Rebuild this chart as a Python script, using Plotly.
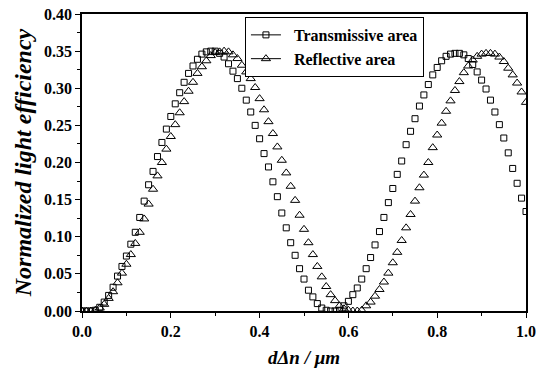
import plotly.graph_objects as go

# d*delta_n grid (um)
x_values = [round(i * 0.01, 2) for i in range(101)]

transmissive = [
    0.000, 0.000, 0.000, 0.001, 0.005, 0.012, 0.021, 0.032, 0.047, 0.060,
    0.074, 0.090, 0.106, 0.126, 0.148, 0.170, 0.188, 0.208, 0.227, 0.245,
    0.262, 0.279, 0.294, 0.308, 0.320, 0.330, 0.339, 0.346, 0.349, 0.350,
    0.350, 0.347, 0.342, 0.333, 0.323, 0.313, 0.300, 0.284, 0.268, 0.250,
    0.232, 0.212, 0.194, 0.174, 0.154, 0.132, 0.112, 0.092, 0.075, 0.057,
    0.043, 0.028, 0.019, 0.010, 0.004, 0.001, 0.000, 0.000, 0.001, 0.007,
    0.013, 0.022, 0.031, 0.043, 0.057, 0.072, 0.089, 0.107, 0.126, 0.146,
    0.165, 0.184, 0.202, 0.224, 0.242, 0.259, 0.276, 0.291, 0.305, 0.318,
    0.328, 0.337, 0.343, 0.346, 0.347, 0.347, 0.345, 0.340, 0.332, 0.322,
    0.311, 0.299, 0.284, 0.268, 0.251, 0.233, 0.213, 0.192, 0.172, 0.152,
    0.134,
]

reflective = [
    0.000, 0.000, 0.000, 0.001, 0.004, 0.009, 0.017, 0.026, 0.038, 0.051,
    0.063, 0.076, 0.091, 0.106, 0.124, 0.144, 0.164, 0.182, 0.200, 0.218,
    0.235, 0.251, 0.267, 0.282, 0.296, 0.308, 0.320, 0.329, 0.337, 0.344,
    0.348, 0.349, 0.350, 0.349, 0.345, 0.340, 0.331, 0.322, 0.313, 0.301,
    0.286, 0.271, 0.255, 0.239, 0.221, 0.203, 0.186, 0.168, 0.149, 0.129,
    0.110, 0.092, 0.076, 0.060, 0.046, 0.033, 0.022, 0.014, 0.007, 0.003,
    0.001, 0.000, 0.000, 0.001, 0.007, 0.012, 0.020, 0.029, 0.039, 0.051,
    0.065, 0.079, 0.095, 0.112, 0.130, 0.148, 0.166, 0.183, 0.200, 0.220,
    0.237, 0.253, 0.269, 0.283, 0.297, 0.309, 0.321, 0.330, 0.338, 0.343,
    0.346, 0.347, 0.347, 0.346, 0.342, 0.336, 0.327, 0.318, 0.307, 0.295,
    0.281,
]

series_names = ["Transmissive area", "Reflective area"]
x_ticks = [0.0, 0.2, 0.4, 0.6, 0.8, 1.0]
y_ticks = [0.00, 0.05, 0.10, 0.15, 0.20, 0.25, 0.30, 0.35, 0.40]

FONT = "Liberation Serif, Times New Roman, serif"

fig = go.Figure()

fig.add_trace(go.Scatter(
    x=x_values, y=transmissive, mode="markers", showlegend=False,
    marker=dict(symbol="square-open", size=6, color="black", line=dict(width=1, color="black")),
))
fig.add_trace(go.Scatter(
    x=x_values, y=reflective, mode="markers", showlegend=False,
    marker=dict(symbol="triangle-up-open", size=8, color="black", line=dict(width=1, color="black")),
))

# legend entries (line + marker, as in the original legend)
fig.add_trace(go.Scatter(
    x=[None], y=[None], mode="lines+markers", name="\u2002" + series_names[0],
    line=dict(color="black", width=1),
    marker=dict(symbol="square-open", size=6, color="black", line=dict(width=1, color="black")),
))
fig.add_trace(go.Scatter(
    x=[None], y=[None], mode="lines+markers", name="\u2002" + series_names[1],
    line=dict(color="black", width=1),
    marker=dict(symbol="triangle-up-open", size=8, color="black", line=dict(width=1, color="black")),
))

fig.update_layout(
    width=548, height=368,
    margin=dict(l=82, r=22, t=14, b=57),
    paper_bgcolor="white", plot_bgcolor="white",
    font=dict(family=FONT, color="black"),
    legend=dict(
        x=0.367, y=0.99, xanchor="left", yanchor="top",
        bgcolor="white", bordercolor="black", borderwidth=1,
        font=dict(family=FONT, size=16, color="black", weight="bold"),
        tracegroupgap=0, itemsizing="trace",
    ),
)

fig.update_xaxes(
    range=[0, 1.0], tickvals=x_ticks, ticktext=[f"{v:.1f}" for v in x_ticks],
    showline=True, linecolor="black", linewidth=1.5, mirror=True,
    ticks="outside", ticklen=5, tickwidth=1, tickcolor="black",
    minor=dict(dtick=0.1, ticks="outside", ticklen=3, tickcolor="black"),
    showgrid=False, zeroline=False, automargin=False,
    tickfont=dict(family=FONT, size=16, color="black", weight="bold"),
    title=dict(text="dΔn / μm", standoff=14,
               font=dict(family=FONT, size=19, color="black", weight="bold", style="italic")),
)
fig.update_yaxes(
    range=[0, 0.40], tickvals=y_ticks, ticktext=[f"{v:.2f}" for v in y_ticks],
    showline=True, linecolor="black", linewidth=1.5, mirror=True,
    ticks="outside", ticklen=5, tickwidth=1, tickcolor="black",
    minor=dict(dtick=0.025, ticks="outside", ticklen=3, tickcolor="black"),
    showgrid=False, zeroline=False, automargin=False,
    tickfont=dict(family=FONT, size=16, color="black", weight="bold"),
    title=dict(text="Normalized light efficiency", standoff=6,
               font=dict(family=FONT, size=24, color="black", weight="bold", style="italic")),
)

fig.write_html("out.html")
